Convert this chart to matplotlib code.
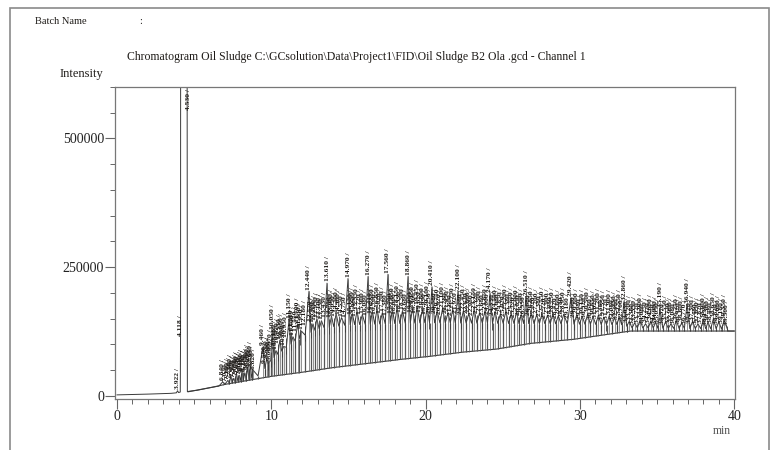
#!/usr/bin/env python3
"""GC-FID chromatogram of oil sludge, redrawn from the scanned report."""

import matplotlib.pyplot as plt
import numpy as np
from matplotlib.patches import Rectangle
from matplotlib.ticker import FixedLocator, MultipleLocator

plt.rcParams["font.family"] = ["Liberation Serif", "DejaVu Serif"]

TITLE = ("Chromatogram Oil Sludge C:\\GCsolution\\Data\\Project1\\FID\\"
         "Oil Sludge B2 Ola .gcd - Channel 1")

# integration baseline (min, intensity)
baseline_min = [0.0, 3.5, 4.6, 6.2, 7.1, 10.0, 12.0, 14.0, 18.4, 20.3,
                22.4, 24.6, 26.8, 29.6, 32.8, 33.3, 40.0]
baseline_int = [2000, 5000, 8000, 17000, 23000, 38000, 46000, 55000, 71000, 77000,
                85000, 91000, 102000, 110000, 124000, 126000, 126000]

# level of the unresolved hump between the resolved peaks
hump_min = [6.5, 8.0, 9.0, 9.3, 10.0, 11.0, 12.0, 13.0, 15.0, 20.0, 28.0, 32.8, 33.3, 39.6]
hump_int = [20000, 30000, 36000, 42000, 70000, 95000, 115000, 130000, 138000,
            142000, 140000, 138000, 132000, 130000]

# front of the run: small peaks and the off-scale solvent peak
front_min = [0.0, 2.0, 3.5, 3.85, 3.922, 3.99, 4.10, 4.118, 4.14, 4.50, 4.56,
             5.2, 6.2, 6.6]
front_int = [2000, 3500, 5000, 6000, 10000, 6500, 7500, 114000, 2500000, 2500000,
             8500, 11000, 17000, 19000]
front_peak_min = [3.922, 4.118]
front_peak_int = [10000, 114000]
solvent_rt = 4.530

# resolved peaks after the solvent
peak_min = [
    6.84, 7.18, 7.38, 7.56, 7.74, 7.92, 8.10, 8.28, 8.46, 8.64, 8.82,
    9.46, 9.70, 9.88, 10.05, 10.30, 10.55, 10.80, 11.15, 11.40, 11.70, 11.95,
    12.44, 12.70, 12.95, 13.25, 13.61, 13.90, 14.20, 14.55, 14.97, 15.25, 15.55,
    15.90, 16.27, 16.55, 16.85, 17.20, 17.56, 17.85, 18.15, 18.50, 18.86, 19.15,
    19.45, 19.80, 20.10, 20.41,
    20.75, 21.10, 21.45, 21.75, 22.10, 22.45, 22.80, 23.15, 23.50, 23.85, 24.17,
    24.50, 24.85, 25.20, 25.55, 25.90, 26.20, 26.51, 26.85, 27.20, 27.55, 27.90,
    28.25, 28.60, 28.95, 29.42, 29.80, 30.15, 30.50, 30.85, 31.20, 31.55, 31.90,
    32.25, 32.55, 32.86,
    33.20, 33.55, 33.90, 34.25, 34.60, 34.90, 35.19, 35.55, 35.90, 36.25, 36.60,
    36.94, 37.30, 37.65, 38.00, 38.30, 38.65, 39.00, 39.35,
]
peak_int = [
    27000, 30000, 38000, 34000, 44000, 40000, 48000, 45000, 56000, 62000, 50000,
    95000, 72000, 66000, 126000, 88000, 108000, 96000, 149000, 115000, 140000, 126000,
    203000, 140000, 150000, 146000, 219000, 155000, 160000, 152000, 228000, 160000,
    165000, 158000, 232000, 165000, 170000, 162000, 236000, 168000, 172000, 165000,
    232000, 170000, 175000, 168000, 172000, 212000,
    165000, 170000, 162000, 168000, 204000, 166000, 160000, 168000, 162000, 166000,
    199000, 164000, 160000, 165000, 160000, 163000, 158000, 193000, 162000, 158000,
    161000, 157000, 160000, 156000, 159000, 191000, 158000, 155000, 159000, 154000,
    157000, 153000, 156000, 152000, 155000, 184000,
    145000, 142000, 148000, 140000, 146000, 143000, 170000, 144000, 140000, 147000,
    142000, 178000, 145000, 140000, 148000, 143000, 150000, 144000, 147000,
]

# small shoulder peaks riding on the hump
minor_min = [
    7.02, 7.28, 7.47, 7.65, 7.83, 8.01, 8.19, 8.37, 8.55, 8.73,
    9.58, 9.79, 9.97, 10.18, 10.42, 10.68, 10.95, 11.28, 11.55, 11.83, 12.18,
    12.57, 12.83, 13.10, 13.43, 13.75, 14.05, 14.38, 14.75, 15.12, 15.40, 15.72,
    16.08, 16.41, 16.70, 17.02, 17.38, 17.70, 18.00, 18.33, 18.68, 19.00, 19.30,
    19.62, 19.95, 20.25,
    20.58, 20.92, 21.28, 21.60, 21.92, 22.28, 22.62, 22.98, 23.32, 23.68, 24.00,
    24.33, 24.68, 25.02, 25.38, 25.72, 26.05, 26.35, 26.68, 27.02, 27.38, 27.72,
    28.08, 28.42, 28.78, 29.18, 29.60, 29.98, 30.32, 30.68, 31.02, 31.38, 31.72,
    32.08, 32.40, 32.70,
    33.03, 33.38, 33.72, 34.08, 34.42, 34.75, 35.05, 35.37, 35.72, 36.08, 36.42,
    36.77, 37.12, 37.48, 37.82, 38.15, 38.48, 38.82, 39.18, 39.50,
]
minor_int = [
    26000, 32000, 35000, 38000, 41000, 43000, 46000, 50000, 52000, 55000,
    60000, 70000, 85000, 96000, 100000, 110000, 112000, 125000, 122000, 130000, 135000,
    142000, 145000, 148000, 150000, 150000, 152000, 155000, 150000, 155000, 152000,
    156000, 153000, 157000, 155000, 158000, 154000, 158000, 156000, 160000, 155000,
    160000, 157000, 160000, 156000, 158000,
    158000, 155000, 158000, 154000, 157000, 155000, 158000, 154000, 157000, 153000,
    156000, 154000, 156000, 152000, 155000, 151000, 154000, 150000, 153000, 150000,
    152000, 149000, 151000, 148000, 150000, 148000, 150000, 147000, 149000, 146000,
    148000, 145000, 147000, 144000, 146000, 144000,
    140000, 137000, 139000, 136000, 139000, 136000, 138000, 136000, 139000, 136000,
    138000, 136000, 139000, 136000, 138000, 135000, 138000, 136000, 138000, 135000,
]
assert len(peak_min) == len(peak_int)
assert len(minor_min) == len(minor_int)

end_min = [39.6, 40.0]

INK = "#3a3a3a"
TEXT = "#1e1b18"


def main() -> None:
    fig = plt.figure(figsize=(7.75, 4.5), dpi=100)
    ax = fig.add_axes([115 / 775, 51 / 450, 620 / 775, 312 / 450])

    pk_t = np.array(peak_min)
    pk_h = np.array(peak_int, dtype=float)
    valley_t = (pk_t[:-1] + pk_t[1:]) / 2
    valley_h = np.interp(valley_t, hump_min, hump_int)

    # signal: front part, then apex/valley zig-zag, then back to baseline
    zig_t = np.empty(2 * len(pk_t) - 1)
    zig_h = np.empty_like(zig_t)
    zig_t[0::2], zig_t[1::2] = pk_t, valley_t
    zig_h[0::2], zig_h[1::2] = pk_h, valley_h
    end_h = np.interp(end_min, baseline_min, baseline_int)
    trace_t = np.concatenate([front_min, zig_t, end_min])
    trace_h = np.concatenate([front_int, zig_h, end_h])
    ax.plot(trace_t, trace_h, color=INK, lw=0.7)

    # baseline and drop lines
    ax.plot(baseline_min[2:], baseline_int[2:], color=INK, lw=0.8)
    ax.vlines(valley_t, np.interp(valley_t, baseline_min, baseline_int), valley_h,
              color="#555", lw=0.9)
    ax.vlines(pk_t, np.interp(pk_t, baseline_min, baseline_int), pk_h,
              color="#666", lw=0.5)

    # shoulders on the hump
    mn_t = np.array(minor_min)
    mn_foot = np.maximum(np.interp(mn_t, hump_min, hump_int) - 12000,
                         np.interp(mn_t, baseline_min, baseline_int))
    ax.vlines(mn_t, mn_foot, minor_int, color=INK, lw=0.6)

    # retention time labels
    all_t = list(front_peak_min) + list(peak_min) + list(minor_min)
    all_h = list(front_peak_int) + list(peak_int) + list(minor_int)
    for t, h in zip(all_t, all_h):
        ax.annotate(f"{t:.3f} /", (t, h), xytext=(0, 1.2), textcoords="offset points",
                    rotation=90, ha="center", va="bottom", fontsize=5.4,
                    fontweight="bold", color=TEXT)
    ax.text(solvent_rt + 0.13, 596000, f"{solvent_rt:.3f} /", rotation=90,
            ha="center", va="top", fontsize=5.4, fontweight="bold", color=TEXT)

    ax.set_xlim(-0.13, 40.05)
    ax.set_ylim(-6000, 600000)
    ax.xaxis.set_major_locator(MultipleLocator(10))
    ax.xaxis.set_minor_locator(MultipleLocator(1))
    ax.yaxis.set_major_locator(FixedLocator([0, 250000, 500000]))
    ax.yaxis.set_minor_locator(MultipleLocator(50000))
    ax.tick_params(which="major", direction="out", length=7, width=0.8, colors="#666",
                   labelcolor="#222", labelsize=10, pad=1)
    ax.tick_params(which="minor", direction="out", length=3.5, width=0.7, colors="#666")
    for sp in ax.spines.values():
        sp.set_color("#777")
        sp.set_linewidth(0.9)

    fig.text(35 / 775, 1 - 22 / 450, "Batch Name", fontsize=7.5, va="center", color=TEXT)
    fig.text(139 / 775, 1 - 21 / 450, ":", fontsize=7.5, va="center", color=TEXT)
    fig.text(127 / 775, 1 - 57 / 450, TITLE, fontsize=8.5, va="center", color=TEXT)
    fig.text(60 / 775, 1 - 74 / 450, "Intensity", fontsize=9, va="center", color=TEXT)
    fig.text(722 / 775, 1 - 431 / 450, "min", fontsize=8.5, ha="center", va="center",
             color="#555")

    # edge of the scanned page
    fig.add_artist(Rectangle((10 / 775, -0.1), 759 / 775, 1 - 8 / 450 + 0.1,
                             transform=fig.transFigure, fill=False, ec="#8a8a8a", lw=1.2))

    fig.savefig("out.png", dpi=100)
    plt.close(fig)


if __name__ == "__main__":
    main()
